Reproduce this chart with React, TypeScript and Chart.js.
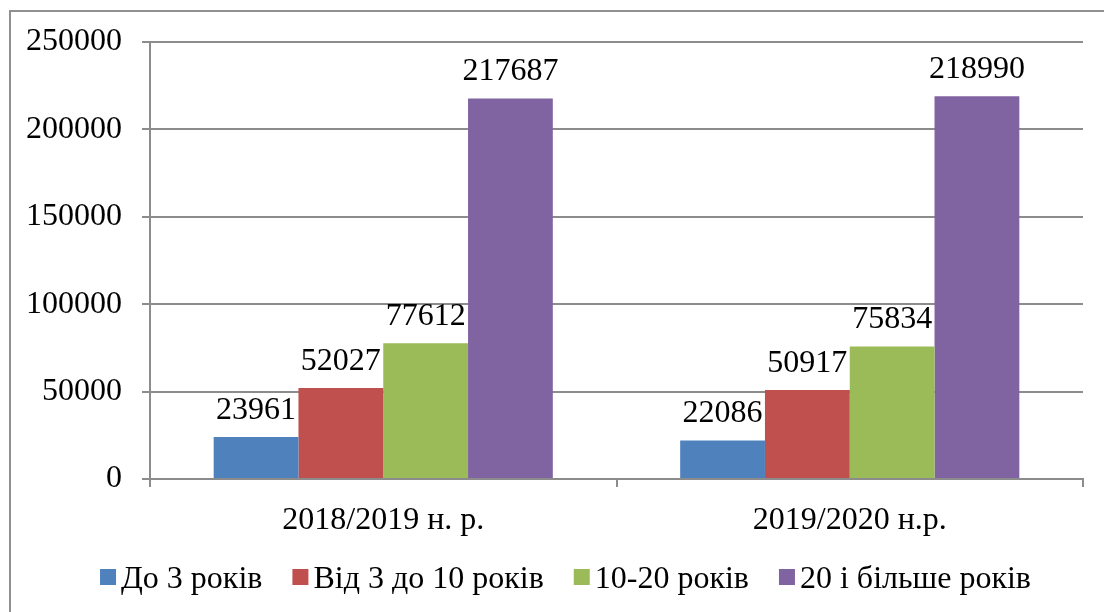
import React, { useEffect, useRef } from "react";
import { Chart, registerables } from "chart.js";

Chart.register(...registerables);

const categories = ["2018/2019 н. р.", "2019/2020 н.р."];
const seriesNames = ["До 3 років", "Від 3 до 10 років", "10-20 років", "20 і більше років"];
const upTo3 = [23961, 22086];
const from3to10 = [52027, 50917];
const from10to20 = [77612, 75834];
const over20 = [217687, 218990];
const seriesColors = ["#4F81BD", "#C0504D", "#9BBB59", "#8064A2"];
const yMin = 0;
const yMax = 250000;
const yStep = 50000;

const FONT = "'Liberation Serif', 'Times New Roman', serif";
const GRID = "#8c8c8c";

const framePlugin = {
  id: "frame",
  beforeDraw(chart: any) {
    const ctx = chart.ctx;
    ctx.save();
    ctx.fillStyle = "#ffffff";
    ctx.fillRect(0, 0, chart.width, chart.height);
    ctx.strokeStyle = "#909090";
    ctx.lineWidth = 2;
    ctx.strokeRect(10, 11, chart.width + 50, chart.height + 50);
    ctx.restore();
  },
};

const valueLabelPlugin = {
  id: "valueLabels",
  afterDatasetsDraw(chart: any) {
    const ctx = chart.ctx;
    ctx.save();
    ctx.font = `32px ${FONT}`;
    ctx.fillStyle = "#000000";
    ctx.textAlign = "center";
    ctx.textBaseline = "alphabetic";
    chart.data.datasets.forEach((ds: any, i: number) => {
      const meta = chart.getDatasetMeta(i);
      meta.data.forEach((bar: any, j: number) => {
        ctx.fillText(String(ds.data[j]), bar.x, bar.y - 18);
      });
    });
    ctx.restore();
  },
};

const legendPlugin = {
  id: "customLegend",
  afterDraw(chart: any) {
    const ctx = chart.ctx;
    ctx.save();
    ctx.font = `32px ${FONT}`;
    const box = 16;
    const gap = 5;
    const spacing = 30;
    const items = chart.data.datasets.map((ds: any) => ({
      label: ds.label,
      color: ds.backgroundColor,
      w: ctx.measureText(ds.label).width,
    }));
    const total =
      items.reduce((s: number, it: any) => s + box + gap + it.w, 0) + spacing * (items.length - 1);
    let x = 565.5 - total / 2;
    items.forEach((it: any) => {
      ctx.fillStyle = it.color;
      ctx.fillRect(x, 569, box, box);
      ctx.fillStyle = "#000000";
      ctx.textAlign = "left";
      ctx.textBaseline = "alphabetic";
      ctx.fillText(it.label, x + box + gap, 588);
      x += box + gap + it.w + spacing;
    });
    ctx.restore();
  },
};

export default function App() {
  const canvasRef = useRef<HTMLCanvasElement | null>(null);

  useEffect(() => {
    document.body.style.margin = "0";
    const canvas = canvasRef.current;
    if (!canvas) return;
    const values = [upTo3, from3to10, from10to20, over20];
    const chart = new Chart(canvas, {
      type: "bar",
      data: {
        labels: categories,
        datasets: seriesNames.map((name, i) => ({
          label: name,
          data: values[i],
          backgroundColor: seriesColors[i],
          borderWidth: 0,
          barPercentage: 1,
          categoryPercentage: 0.727,
        })),
      },
      options: {
        responsive: false,
        animation: false,
        devicePixelRatio: 1,
        layout: { padding: { left: 0, right: 21, top: 42, bottom: 63 } },
        plugins: {
          legend: { display: false },
          tooltip: { enabled: false },
          title: { display: false },
        },
        scales: {
          x: {
            offset: true,
            grid: {
              offset: true,
              drawOnChartArea: false,
              drawTicks: true,
              tickLength: 8,
              color: GRID,
              lineWidth: 2,
            },
            border: { display: true, color: GRID, width: 2 },
            ticks: {
              color: "#000000",
              font: { family: FONT, size: 32 },
              padding: 14,
              maxRotation: 0,
            },
            afterFit(scale: any) {
              scale.height = 70;
            },
          },
          y: {
            min: yMin,
            max: yMax,
            grid: {
              color: GRID,
              lineWidth: 2,
              drawTicks: true,
              tickLength: 8,
            },
            border: { display: true, color: GRID, width: 2 },
            ticks: {
              stepSize: yStep,
              color: "#000000",
              font: { family: FONT, size: 32 },
              padding: 20,
              callback: (value: any) => String(value),
            },
            afterFit(scale: any) {
              scale.width = 150;
            },
          },
        },
      },
      plugins: [framePlugin, valueLabelPlugin, legendPlugin],
    });
    return () => chart.destroy();
  }, []);

  return (
    <div style={{ width: 1104, height: 612 }}>
      <canvas ref={canvasRef} width={1104} height={612} style={{ display: "block" }} />
    </div>
  );
}
